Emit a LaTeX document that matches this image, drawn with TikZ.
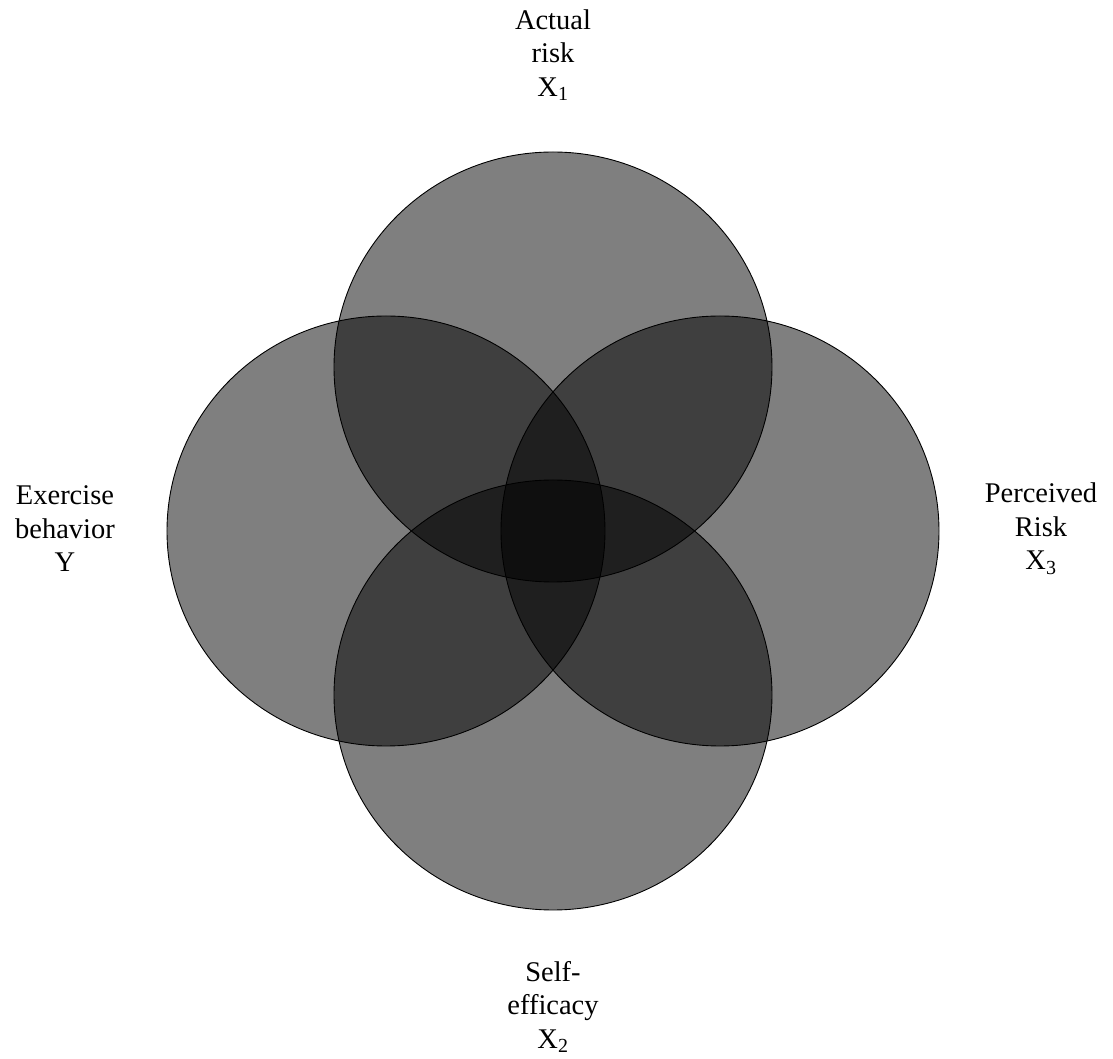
\documentclass[tikz,border=0pt]{standalone}
\usepackage{fontspec}
\setmainfont{Liberation Serif}
\usetikzlibrary{positioning}
\tikzset{
  venn/.style={draw=black, line width=0.9pt, fill=black, fill opacity=0.5},
  setlabel/.style={align=center, inner sep=0pt,
    font=\fontsize{28.5}{33.5}\selectfont}
}
\begin{document}
\begin{tikzpicture}[x=1pt, y=1pt]
  \useasboundingbox (-553,-528) rectangle (560,531);
  %%
  \draw[venn] (0,164)  ellipse [x radius=219, y radius=215];
  \draw[venn] (-167,0) ellipse [x radius=219, y radius=215];
  \draw[venn] (167,0)  ellipse [x radius=219, y radius=215];
  \draw[venn] (0,-164) ellipse [x radius=219, y radius=215];
  %%
  \node[setlabel] (actual)    at (0,476)   {Actual\\risk\\X\textsubscript{1}};
  \node[setlabel] (exercise)  at (-488,2)  {Exercise\\behavior\\Y};
  \node[setlabel] (perceived) at (488,2)   {Perceived\\Risk\\X\textsubscript{3}};
  \node[setlabel] (efficacy)  at (0,-476)  {Self-\\efficacy\\X\textsubscript{2}};
\end{tikzpicture}
\end{document}
